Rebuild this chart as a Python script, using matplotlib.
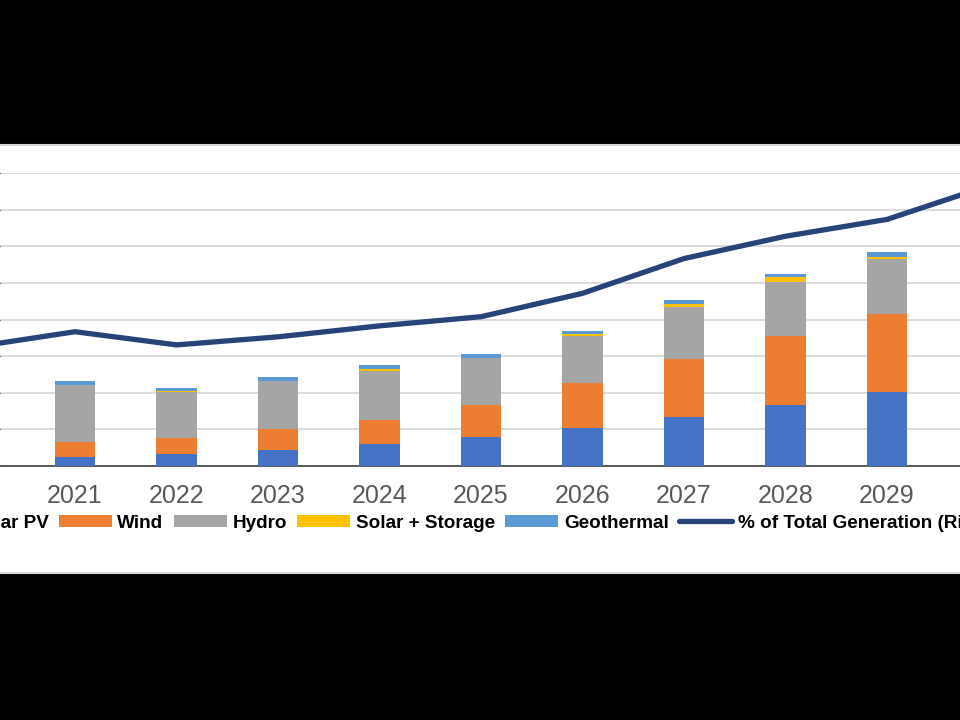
import matplotlib.pyplot as plt
from matplotlib.patches import Rectangle

# data (left axis: generation, right axis: % of total)
years = [2021, 2022, 2023, 2024, 2025, 2026, 2027, 2028, 2029]
solar_pv = [2.5, 3.2, 4.4, 5.9, 7.8, 10.5, 13.3, 16.6, 20.1]
wind = [4.1, 4.4, 5.7, 6.8, 9.0, 12.3, 15.9, 19.0, 21.5]
hydro = [15.5, 12.7, 13.0, 13.3, 12.6, 12.7, 14.2, 14.8, 15.0]
solar_storage = [0.1, 0.2, 0.2, 0.6, 0.2, 0.5, 0.9, 1.2, 0.6]
geothermal = [1.1, 0.9, 1.0, 0.9, 1.0, 1.0, 1.2, 0.9, 1.3]

line_years = [2020, 2021, 2022, 2023, 2024, 2025, 2026, 2027, 2028, 2029, 2030]
pct_total = [32.5, 36.7, 33.1, 35.3, 38.3, 40.8, 47.2, 56.7, 62.8, 67.4, 76.6]

series = [
    ("Solar PV", solar_pv, "#4472C4"),
    ("Wind", wind, "#ED7D31"),
    ("Hydro", hydro, "#A5A5A5"),
    ("Solar + Storage", solar_storage, "#FFC000"),
    ("Geothermal", geothermal, "#5B9BD5"),
]
line_color = "#264478"

plt.rcParams['font.family'] = ['Liberation Sans', 'DejaVu Sans']

fig = plt.figure(figsize=(9.6, 7.2), dpi=100)
fig.patch.set_facecolor('black')

# white chart panel (the picture is a crop of a wider slide)
fig.patches.append(Rectangle((-0.01, 1 - 572.5 / 720), 1.02, 428 / 720,
                             transform=fig.transFigure, facecolor='white',
                             edgecolor='#d9d9d9', linewidth=1.5, zorder=-5))

ax = fig.add_axes([0, 1 - 466 / 720, 1, (466 - 173.3) / 720])
ax.set_facecolor('none')

bottom = [0] * len(years)
handles = []
for name, vals, color in series:
    b = ax.bar(years, vals, width=0.4, bottom=bottom, color=color,
               label=name, zorder=3)
    handles.append(b)
    bottom = [a + v for a, v in zip(bottom, vals)]

ax.set_xlim(2020.261, 2029.719)
ax.set_ylim(0, 80)
ax.set_yticks(range(0, 81, 10))
ax.yaxis.grid(True, color='#d9d9d9', linewidth=1.3, zorder=0)
ax.set_axisbelow(True)
ax.tick_params(axis='y', left=False, labelleft=False)
ax.set_xticks(years)
ax.set_xticklabels([str(y) for y in years])
ax.tick_params(axis='x', length=0, pad=13, labelsize=18, labelcolor='#595959')
for s in ['top', 'right', 'left']:
    ax.spines[s].set_visible(False)
ax.spines['bottom'].set_color('#404040')
ax.spines['bottom'].set_linewidth(1.2)

ax2 = ax.twinx()
ax2.set_ylim(0, 80)
ln, = ax2.plot(line_years, pct_total, color=line_color, linewidth=3.8,
               solid_capstyle='round', solid_joinstyle='round',
               label='% of Total Generation (Right axis)', zorder=4)
ax2.tick_params(axis='y', right=False, labelright=False)
for s in ax2.spines.values():
    s.set_visible(False)

handles.append(ln)
leg = fig.legend(handles, [h.get_label() for h in handles], loc='center',
                 bbox_to_anchor=(476 / 960, 1 - 523 / 720), ncol=6,
                 frameon=False, handlelength=2.8, handleheight=0.55,
                 handletextpad=0.3, columnspacing=0.55,
                 prop={'weight': 'bold', 'size': 13.6})
for t in leg.get_texts():
    t.set_color('black')

fig.savefig("out.png", dpi=100, facecolor=fig.get_facecolor())
